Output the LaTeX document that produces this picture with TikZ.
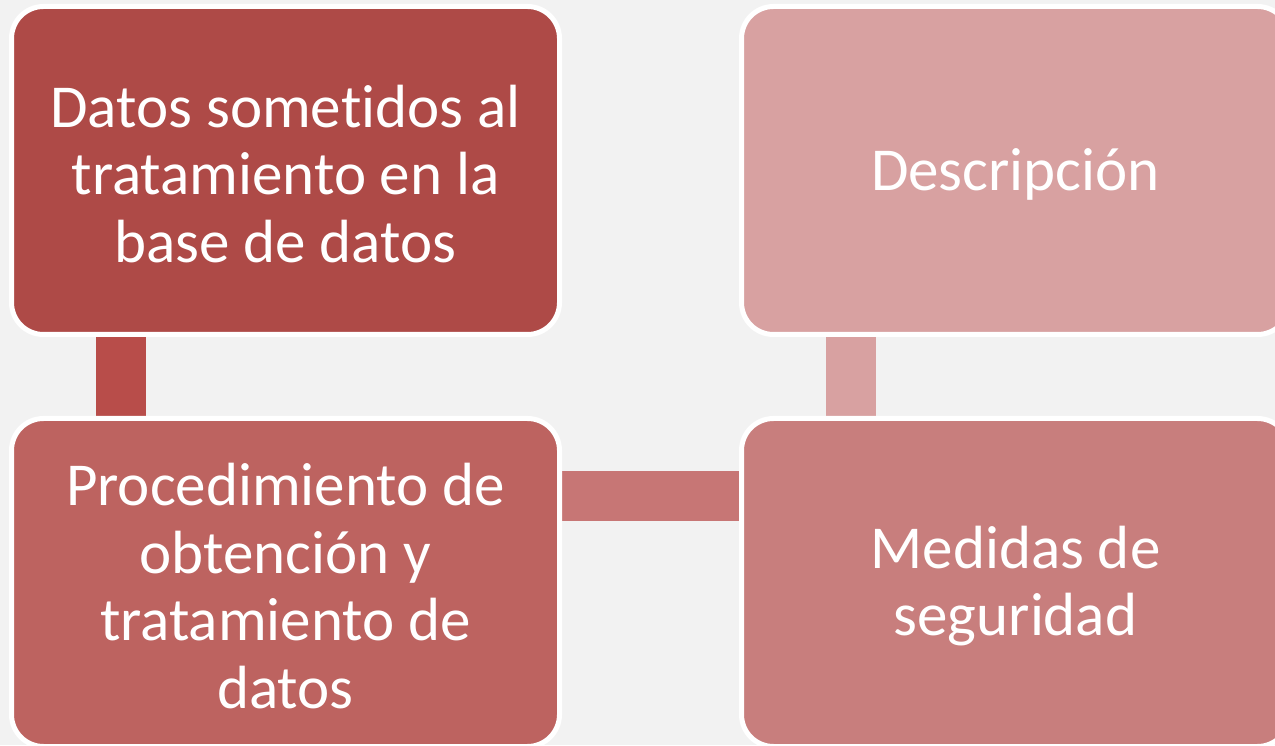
\documentclass[tikz,border=0pt]{standalone}
\usepackage{fontspec}
\setmainfont{Carlito}[Ligatures={NoCommon,NoRequired,NoContextual}]
\pgfdeclarelayer{back}
\pgfsetlayers{back,main}
\definecolor{bg}{HTML}{F2F2F2}
\definecolor{cA}{HTML}{AE4A47}
\definecolor{cB}{HTML}{D8A1A1}
\definecolor{cC}{HTML}{BD6360}
\definecolor{cD}{HTML}{C87E7D}
\definecolor{barL}{HTML}{B84D4A}
\definecolor{barH}{HTML}{C77675}
\definecolor{barR}{HTML}{D8A1A1}
\tikzset{
  box/.style={draw=white, line width=5pt, rounded corners=32pt,
    minimum width=548pt, minimum height=328pt, inner sep=0pt},
  boxtext/.style={text=white, align=center, inner sep=0pt, yshift=-3.5pt,
    font=\fontsize{61}{67.5}\selectfont},
  bar/.style={line width=50pt}
}
\begin{document}
\begin{tikzpicture}[x=1pt,y=1pt]
\useasboundingbox (0,0) rectangle (1275,745);
\node[box, fill=cA] (b1) at (285.5,574.5) {};
\node[box, fill=cB] (b2) at (1015.5,574.5) {};
\node[box, fill=cC] (b3) at (285.5,162.5) {};
\node[box, fill=cD] (b4) at (1015.5,162.5) {};
\node[boxtext] (t1) at (b1.center) {Datos sometidos al\\tratamiento en la\\base de datos};
\node[boxtext] (t2) at (b2.center) {Descripción};
\node[boxtext] (t3) at (b3.center) {Procedimiento de\\obtención y\\tratamiento de\\datos};
\node[boxtext] (t4) at (b4.center) {Medidas de\\seguridad};
\begin{pgfonlayer}{back}
\fill[bg] (0,0) rectangle (1275,745);
\draw[bar, barL] ([xshift=111.5pt]b1.south west) -- ([xshift=111.5pt]b3.north west);
\draw[bar, barH] ([yshift=-80pt]b3.north east) -- ([yshift=-80pt]b4.north west);
\draw[bar, barR] ([xshift=111.5pt]b4.north west) -- ([xshift=111.5pt]b2.south west);
\end{pgfonlayer}
\end{tikzpicture}
\end{document}
